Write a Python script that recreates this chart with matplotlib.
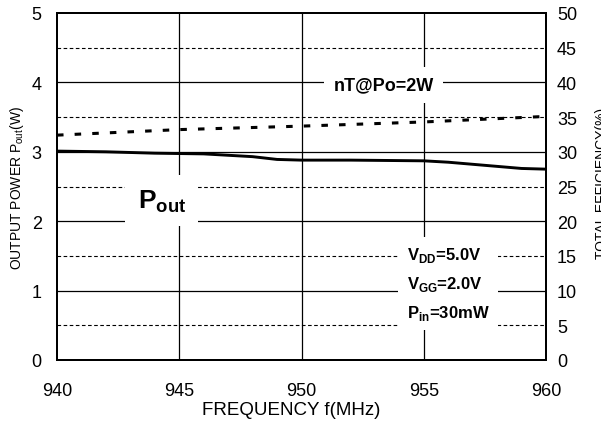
import matplotlib
matplotlib.use("Agg")
import matplotlib.pyplot as plt

plt.rcParams['font.family'] = ['Liberation Sans', 'DejaVu Sans']
plt.rcParams['lines.scale_dashes'] = False

# ---- data ----
freq_pout = [940, 942, 944, 946, 947, 948, 949, 950, 952, 955, 956, 957, 958, 959, 960]
pout_w = [3.01, 3.00, 2.98, 2.97, 2.95, 2.93, 2.89, 2.88, 2.88, 2.87, 2.85, 2.82, 2.79, 2.76, 2.75]
freq_eff = [940, 945, 950, 955, 960]
eff_pct = [32.4, 33.2, 33.7, 34.3, 35.1]
x_ticks = [940, 945, 950, 955, 960]
y_left_ticks = [0, 1, 2, 3, 4, 5]
y_right_ticks = [0, 5, 10, 15, 20, 25, 30, 35, 40, 45, 50]
solid_h = [1, 2, 3, 4]
dashed_h = [0.5, 1.5, 2.5, 3.5, 4.5]
solid_v = [945, 950, 955]

W, H = 601, 427
fig = plt.figure(figsize=(W / 100, H / 100), dpi=100)
ax = fig.add_axes([57 / W, 66 / H, 489 / W, 347 / H])
ax2 = ax.twinx()

ax.set_xlim(940, 960)
ax.set_ylim(0, 5)
ax2.set_ylim(0, 50)

for v in solid_h:
    ax.axhline(v, color='black', lw=0.9, zorder=1)
for v in dashed_h:
    ax.axhline(v, color='black', lw=0.8, ls=(0, (2.6, 1.8)), zorder=1)
for v in solid_v:
    ax.axvline(v, color='black', lw=0.9, zorder=1)

ax.plot(freq_pout, pout_w, color='black', lw=2.1, zorder=3)
ax2.plot(freq_eff, eff_pct, color='black', lw=2.2, ls=(0, (4.7, 8.0)), zorder=3)

ax.set_xticks(x_ticks)
ax.set_yticks(y_left_ticks)
ax2.set_yticks(y_right_ticks)
ax.tick_params(axis='x', length=0, labelsize=13, pad=16)
ax.tick_params(axis='y', length=0, labelsize=13, pad=11)
ax2.tick_params(axis='y', length=0, labelsize=13, pad=8)

for a in (ax, ax2):
    for s in a.spines.values():
        s.set_linewidth(1.4)
        s.set_color('black')

ax.set_xlabel('FREQUENCY f(MHz)', fontsize=13.5)
ax.xaxis.set_label_coords(0.478, -0.118)

fig.text(17.5 / W, 1 - 188 / H, r'OUTPUT POWER P$_{\mathregular{out}}$(W)', rotation=90,
         ha='center', va='center', fontsize=10)
fig.text(595 / W, 1 - 183 / H, 'TOTAL EFFICIENCY(%)', rotation=90,
         ha='left', va='center', fontsize=10)

ax2.text(953.35, 3.96, 'nT@Po=2W', ha='center', va='center', fontsize=13,
         fontweight='bold', bbox=dict(facecolor='white', edgecolor='none', pad=7),
         transform=ax.transData, zorder=4)
ax2.text(943.3, 2.2, r'P$_{\mathregular{out}}$', ha='left', va='baseline', fontsize=19,
         fontweight='bold', bbox=dict(facecolor='white', edgecolor='none', pad=9),
         transform=ax.transData, zorder=4)
ax2.text(954.3, 0.62, 'V$_{\\mathregular{DD}}$=5.0V\nV$_{\\mathregular{GG}}$=2.0V\nP$_{\\mathregular{in}}$=30mW',
         ha='left', va='baseline', fontsize=12, fontweight='bold', linespacing=1.7,
         bbox=dict(facecolor='white', edgecolor='none', pad=6),
         transform=ax.transData, zorder=4)

fig.savefig('out.png', dpi=100)
